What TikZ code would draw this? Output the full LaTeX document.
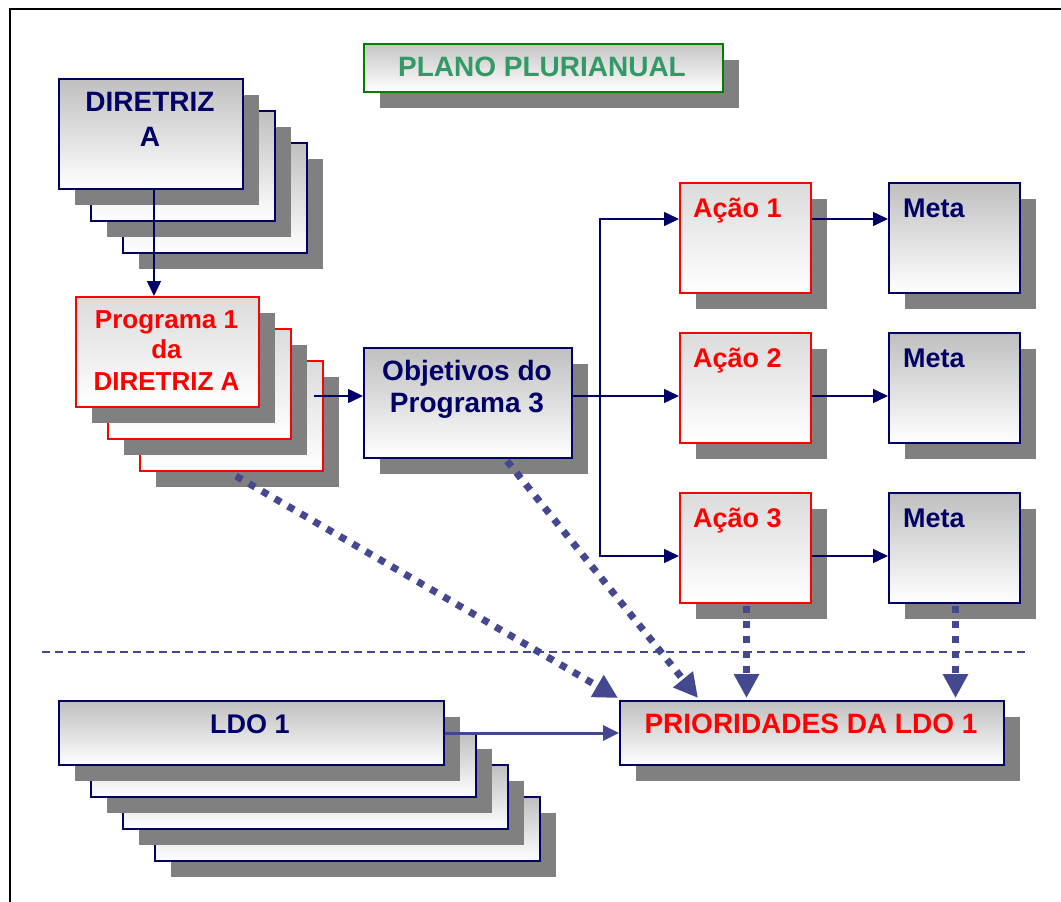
\documentclass[tikz,border=0pt]{standalone}
\usepackage{fontspec}
\setmainfont{Liberation Sans}
\usetikzlibrary{arrows.meta,shadows,calc}

\definecolor{dnavy}{HTML}{000066}
\definecolor{pred}{HTML}{FF0000}
\definecolor{pgreen}{HTML}{008000}
\definecolor{tgreen}{HTML}{339966}
\definecolor{shadowgray}{HTML}{808080}
\definecolor{dotblue}{HTML}{434891}

\begin{document}
\begin{tikzpicture}[x=1pt,y=-1pt,
  box/.style={draw=dnavy, line width=2pt, inner sep=0pt, anchor=north west,
    top color=gray!50, bottom color=white,
    drop shadow={shadow xshift=16pt, shadow yshift=-16pt, fill=shadowgray, opacity=1}},
  redbox/.style={box, draw=pred, top color=gray!28},
  greenbox/.style={box, draw=pgreen, top color=gray!45},
  txt/.style={inner sep=0pt, anchor=base, font=\bfseries\fontsize{28}{33}\selectfont},
  navytxt/.style={txt, text=dnavy},
  redtxt/.style={txt, text=pred},
  conn/.style={draw=dnavy, line width=1.5pt, -{Triangle[length=15pt,width=14pt]}},
  ldoconn/.style={draw=dotblue, line width=3pt, -{Triangle[length=16pt,width=15pt]}},
  dotarrow/.style={draw=dotblue, line width=7pt, dash pattern=on 7pt off 8pt,
    -{Triangle[length=24pt,width=24pt]}},
  divider/.style={draw=dotblue, line width=1.5pt, dash pattern=on 8pt off 5pt}]

\useasboundingbox (0,0) rectangle (1061,902);

% outer frame (top and left edges)
\draw[line width=2.5pt] (10,902) -- (10,9) -- (1061,9);

% title
\node[greenbox, minimum width=359pt, minimum height=48pt] (ppa) at (363,43) {};
\node[txt, text=tgreen] (ppa-t) at (542,76) {PLANO PLURIANUAL};

% stack of guidelines
\node[box, minimum width=184pt, minimum height=110pt] (dir2) at (122,142) {};
\node[box, minimum width=184pt, minimum height=110pt] (dir1) at (90,110) {};
\node[box, minimum width=184pt, minimum height=110pt] (dir0) at (58,78) {};
\node[navytxt] (dir0-t1) at (150,111) {DIRETRIZ};
\node[navytxt] (dir0-t2) at (150,146) {A};

% stack of programmes
\node[redbox, minimum width=183pt, minimum height=110pt] (prog2) at (139,360) {};
\node[redbox, minimum width=183pt, minimum height=110pt] (prog1) at (107,328) {};
\node[redbox, minimum width=183pt, minimum height=110pt] (prog0) at (75,296) {};
\node[redtxt, font=\bfseries\fontsize{26}{31}\selectfont] (prog0-t1) at (166.5,328) {Programa 1};
\node[redtxt, font=\bfseries\fontsize{26}{31}\selectfont] (prog0-t2) at (166.5,358) {da};
\node[redtxt, font=\bfseries\fontsize{26}{31}\selectfont] (prog0-t3) at (166.5,390) {DIRETRIZ A};

% objectives
\node[box, minimum width=208pt, minimum height=110pt] (obj) at (363,347) {};
\node[navytxt] (obj-t1) at (467,380) {Objetivos do};
\node[navytxt] (obj-t2) at (467,412) {Programa 3};

% actions
\node[redbox, minimum width=131pt, minimum height=110pt] (a1) at (679,182) {};
\node[redbox, minimum width=131pt, minimum height=110pt] (a2) at (679,332) {};
\node[redbox, minimum width=131pt, minimum height=110pt] (a3) at (679,492) {};
\node[redtxt, anchor=base west, font=\bfseries\fontsize{27}{32}\selectfont] (a1-t) at (693,217) {Ação 1};
\node[redtxt, anchor=base west, font=\bfseries\fontsize{27}{32}\selectfont] (a2-t) at (693,367) {Ação 2};
\node[redtxt, anchor=base west, font=\bfseries\fontsize{27}{32}\selectfont] (a3-t) at (693,527) {Ação 3};

% targets
\node[box, minimum width=131pt, minimum height=110pt] (m1) at (888,182) {};
\node[box, minimum width=131pt, minimum height=110pt] (m2) at (888,332) {};
\node[box, minimum width=131pt, minimum height=110pt] (m3) at (888,492) {};
\node[navytxt, anchor=base west, font=\bfseries\fontsize{27}{32}\selectfont] (m1-t) at (903,217) {Meta};
\node[navytxt, anchor=base west, font=\bfseries\fontsize{27}{32}\selectfont] (m2-t) at (903,367) {Meta};
\node[navytxt, anchor=base west, font=\bfseries\fontsize{27}{32}\selectfont] (m3-t) at (903,527) {Meta};

% priorities
\node[box, minimum width=384pt, minimum height=64pt] (prio) at (619,700) {};
\node[redtxt] (prio-t) at (811,733) {PRIORIDADES DA LDO 1};

% stack of LDO sheets
\node[box, minimum width=385pt, minimum height=64pt] (ldo3) at (154,796) {};
\node[box, minimum width=385pt, minimum height=64pt] (ldo2) at (122,764) {};
\node[box, minimum width=385pt, minimum height=64pt] (ldo1) at (90,732) {};
\node[box, minimum width=385pt, minimum height=64pt] (ldo0) at (58,700) {};
\node[navytxt, font=\bfseries\fontsize{27}{32}\selectfont] (ldo0-t) at (250,733) {LDO 1};

% divider between plan and LDO
\coordinate (div-l) at (42,652);
\coordinate (div-r) at (1030,652);
\draw[divider] (div-l) -- (div-r);

% solid connectors
\coordinate (dir-out) at (154,188);
\draw[conn] (dir-out) -- (dir-out |- prog0.north);
\coordinate (prog-out) at (314,396);
\draw[conn] (prog-out) -- (prog-out -| obj.west);
\coordinate (a1in) at ($(a1.north west)+(0,37)$);
\coordinate (a2in) at ($(a2.north west)+(0,64)$);
\coordinate (a3in) at ($(a3.north west)+(0,64)$);
\coordinate (split) at (600,396);
\draw[conn] (obj.east |- a2in) -- (a2in);
\draw[conn] (split) |- (a1in);
\draw[conn] (split) |- (a3in);
\draw[conn] (a1.east |- a1in) -- (m1.west |- a1in);
\draw[conn] (a2.east |- a2in) -- (m2.west |- a2in);
\draw[conn] (a3.east |- a3in) -- (m3.west |- a3in);
\draw[ldoconn] (ldo0.east) -- (prio.west);

% dotted links into the priorities
\coordinate (prog-dot) at (236,476);
\coordinate (obj-dot) at (507,461);
\draw[dotarrow] (prog-dot) -- ($(prio.north west)+(-1,-2)$);
\draw[dotarrow] (obj-dot) -- ($(prio.north west)+(79,-2)$);
\draw[dotarrow] ($(a3.south)+(1,2)$) -- ($(a3.south |- prio.north)+(1,-2)$);
\draw[dotarrow] ($(m3.south)+(1,2)$) -- ($(m3.south |- prio.north)+(1,-2)$);
\end{tikzpicture}
\end{document}
